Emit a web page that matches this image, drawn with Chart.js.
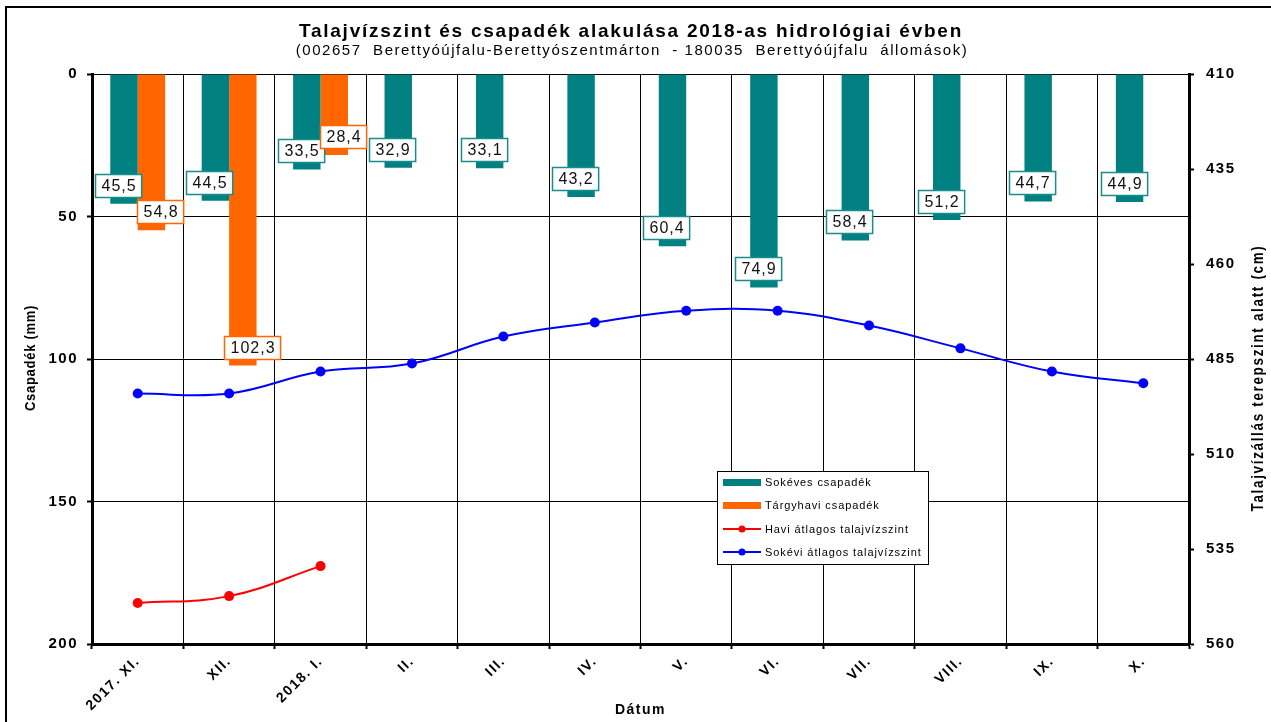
<!DOCTYPE html>
<html>
<head>
<meta charset="utf-8">
<script src="https://cdn.jsdelivr.net/npm/chart.js@4"></script>
<style>
html,body{margin:0;padding:0;background:#fff;}
#wrap{position:relative;width:1271px;height:722px;overflow:hidden;}
#frame{position:absolute;left:5px;top:6px;width:1300px;height:800px;border-left:2px solid #000;border-top:2px solid #000;pointer-events:none;}
canvas{position:absolute;left:0;top:0;}
</style>
</head>
<body>
<div id="wrap">
<canvas id="c" width="1271" height="722"></canvas>
<div id="frame"></div>
</div>
<script>
const categories = ['2017. XI.', 'XII.', '2018. I.', 'II.', 'III.', 'IV.', 'V.', 'VI.', 'VII.', 'VIII.', 'IX.', 'X.'];
const sokevesCsapadek = [45.5, 44.5, 33.5, 32.9, 33.1, 43.2, 60.4, 74.9, 58.4, 51.2, 44.7, 44.9];
const targyhaviCsapadek = [54.8, 102.3, 28.4, null, null, null, null, null, null, null, null, null];
const haviTalajviz = [549.2, 547.4, 539.5, null, null, null, null, null, null, null, null, null];
const sokeviTalajviz = [494.1, 494.1, 488.3, 486.2, 479.1, 475.4, 472.3, 472.3, 476.2, 482.2, 488.3, 491.4];
const leftTicks = [0, 50, 100, 150, 200];
const rightTicks = [410, 435, 460, 485, 510, 535, 560];

const titleText = 'Talajvízszint és csapadék alakulása 2018-as hidrológiai évben';
const subtitleText = '(002657  Berettyóújfalu-Berettyószentmárton  - 180035  Berettyóújfalu  állomások)';
const leftTitle = 'Csapadék (mm)';
const rightTitle = 'Talajvízállás terepszint alatt (cm)';

const FONT = '"Liberation Sans", Arial, sans-serif';
const fmt = v => v.toFixed(1).replace('.', ',');

const spacingPlugin = {
  id: 'spacing',
  beforeDraw(chart) { chart.ctx.letterSpacing = '1.5px'; }
};

const labelPlugin = {
  id: 'barLabels',
  afterDatasetsDraw(chart) {
    const ctx = chart.ctx;
    ctx.save();
    ctx.letterSpacing = '1px';
    ctx.font = '16px ' + FONT;
    ctx.textAlign = 'center';
    ctx.textBaseline = 'middle';
    [0, 1].forEach(di => {
      const meta = chart.getDatasetMeta(di);
      const ds = chart.data.datasets[di];
      meta.data.forEach((bar, i) => {
        const v = ds.data[i];
        if (v == null) return;
        const txt = fmt(v);
        const w = ctx.measureText(txt).width + 11;
        const h = 23;
        const cx = bar.x + ds.labelDx;
        const bottom = bar.y - 7;
        const x0 = Math.round(cx - w / 2) + 0.5, y0 = Math.round(bottom - h) + 0.5;
        ctx.fillStyle = '#fff';
        ctx.fillRect(x0, y0, w, h);
        ctx.strokeStyle = ds.labelBorder;
        ctx.lineWidth = 1.5;
        ctx.strokeRect(x0, y0, w, h);
        ctx.fillStyle = '#111';
        ctx.fillText(txt, x0 + w / 2 + 0.5, y0 + h / 2 + 1);
      });
    });
    ctx.restore();
  }
};

function verticalText(ctx, text, x, y, size, spacing, squeeze) {
  ctx.save();
  ctx.fillStyle = '#000';
  ctx.textAlign = 'center';
  ctx.textBaseline = 'middle';
  ctx.translate(x, y);
  ctx.rotate(-Math.PI / 2);
  ctx.scale(squeeze, 1);
  ctx.letterSpacing = spacing + 'px';
  ctx.font = 'bold ' + size + 'px ' + FONT;
  ctx.fillText(text, 0, 0);
  ctx.restore();
}

const decorPlugin = {
  id: 'decor',
  afterDraw(chart) {
    const ctx = chart.ctx;
    ctx.save();
    ctx.fillStyle = '#000';
    ctx.textAlign = 'center';
    ctx.textBaseline = 'middle';
    ctx.letterSpacing = '1.75px';
    ctx.font = 'bold 19px ' + FONT;
    ctx.fillText(titleText, 631, 32);
    ctx.letterSpacing = '1.55px';
    ctx.font = '15px ' + FONT;
    ctx.fillText(subtitleText, 632, 51);
    ctx.restore();

    verticalText(ctx, leftTitle, 31, 358, 15, 0.8, 0.87);
    verticalText(ctx, rightTitle, 1259, 378, 16, 2, 0.84);

    // legend
    ctx.save();
    const lx = 717, ly = 471, lw = 211, lh = 93;
    ctx.fillStyle = '#fff';
    ctx.fillRect(lx, ly, lw, lh);
    ctx.strokeStyle = '#000';
    ctx.lineWidth = 1;
    ctx.strokeRect(lx + 0.5, ly + 0.5, lw, lh);
    const rows = [482, 505, 529, 552];
    ctx.letterSpacing = '0.9px';
    ctx.font = '11px ' + FONT;
    ctx.textAlign = 'left';
    ctx.textBaseline = 'middle';
    chart.data.datasets.forEach((ds, i) => {
      const y = rows[i];
      if (ds.type === 'line') {
        ctx.strokeStyle = ds.borderColor;
        ctx.lineWidth = 2;
        ctx.beginPath(); ctx.moveTo(723, y); ctx.lineTo(761, y); ctx.stroke();
        ctx.fillStyle = ds.borderColor;
        ctx.beginPath(); ctx.arc(742, y, 3.5, 0, Math.PI * 2); ctx.fill();
      } else {
        ctx.fillStyle = ds.backgroundColor;
        ctx.fillRect(723, y - 3, 38, 7);
      }
      ctx.fillStyle = '#000';
      ctx.fillText(ds.label, 765, y + 1);
    });
    ctx.restore();
  }
};

new Chart(document.getElementById('c'), {
  data: {
    labels: categories,
    datasets: [
      { type: 'bar', label: 'Sokéves csapadék', data: sokevesCsapadek, backgroundColor: '#008080', labelBorder: '#1a8c8c', labelDx: -6, yAxisID: 'y', order: 3, barPercentage: 1.0, categoryPercentage: 0.6 },
      { type: 'bar', label: 'Tárgyhavi csapadék', data: targyhaviCsapadek, backgroundColor: '#FF6600', labelBorder: '#FF6600', labelDx: 9, yAxisID: 'y', order: 3, barPercentage: 1.0, categoryPercentage: 0.6 },
      { type: 'line', label: 'Havi átlagos talajvízszint', data: haviTalajviz, borderColor: '#FF0000', backgroundColor: '#FF0000', pointBackgroundColor: '#FF0000', pointBorderWidth: 0, pointRadius: 5, borderWidth: 2, tension: 0.4, yAxisID: 'y2', order: 1, spanGaps: false },
      { type: 'line', label: 'Sokévi átlagos talajvízszint', data: sokeviTalajviz, borderColor: '#0000FF', backgroundColor: '#0000FF', pointBackgroundColor: '#0000FF', pointBorderWidth: 0, pointRadius: 5, borderWidth: 2, tension: 0.4, yAxisID: 'y2', order: 2 }
    ]
  },
  options: {
    responsive: false,
    animation: false,
    events: [],
    layout: { padding: { top: 74, left: 0, right: 0, bottom: 0 } },
    plugins: { legend: { display: false }, title: { display: false }, tooltip: { enabled: false } },
    scales: {
      x: {
        offset: true,
        grid: { offset: true, color: '#000', lineWidth: 1, drawTicks: true, tickLength: 5, tickColor: '#000', tickWidth: 2 },
        border: { color: '#000', width: 3 },
        ticks: { color: '#000', font: { family: FONT, size: 14, weight: 'bold' }, maxRotation: 45, minRotation: 45, autoSkip: false, padding: 4 },
        title: { display: true, text: 'Dátum', color: '#000', font: { family: FONT, size: 14, weight: 'bold' }, padding: { top: 0, bottom: 3 } },
        afterFit(s) { s.height = 78; }
      },
      y: {
        position: 'left',
        reverse: true,
        min: 0, max: 200,
        afterBuildTicks(s) { s.ticks = leftTicks.map(v => ({ value: v })); },
        grid: { color: '#000', lineWidth: 1, tickLength: 5, tickColor: '#000', tickWidth: 2 },
        border: { color: '#000', width: 3 },
        ticks: { color: '#000', font: { family: FONT, size: 15, weight: 'bold' }, padding: 9 },
        afterFit(s) { s.width = 92; }
      },
      y2: {
        position: 'right',
        reverse: true,
        min: 410, max: 560,
        afterBuildTicks(s) { s.ticks = rightTicks.map(v => ({ value: v })); },
        grid: { drawOnChartArea: false, tickLength: 5, tickColor: '#000', tickWidth: 2 },
        border: { color: '#000', width: 3 },
        ticks: { color: '#000', font: { family: FONT, size: 15, weight: 'bold' }, padding: 12 },
        afterFit(s) { s.width = 82; }
      }
    }
  },
  plugins: [spacingPlugin, labelPlugin, decorPlugin]
});
</script>
</body>
</html>
